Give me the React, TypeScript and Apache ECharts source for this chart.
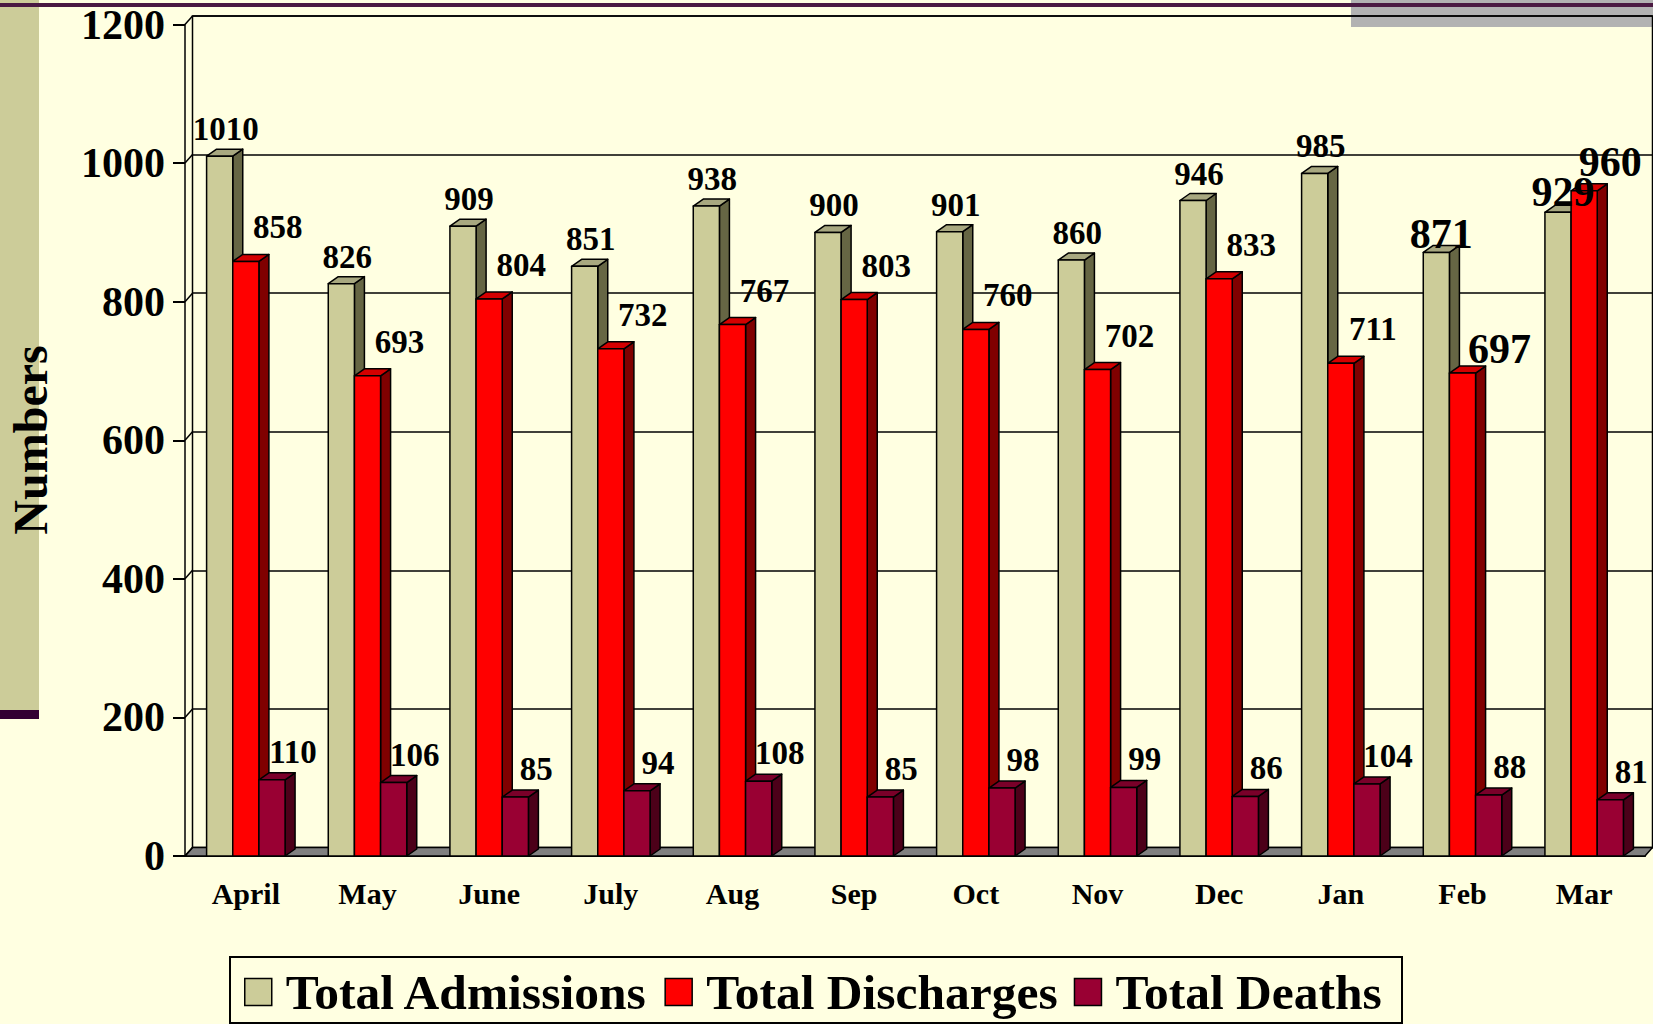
import React, { useEffect, useRef } from 'react';
import * as echarts from 'echarts';

const categories = ['April', 'May', 'June', 'July', 'Aug', 'Sep', 'Oct', 'Nov', 'Dec', 'Jan', 'Feb', 'Mar'];
const admissions = [1010, 826, 909, 851, 938, 900, 901, 860, 946, 985, 871, 929];
const discharges = [858, 693, 804, 732, 767, 803, 760, 702, 833, 711, 697, 960];
const deaths = [110, 106, 85, 94, 108, 85, 98, 99, 86, 104, 88, 81];
const yTicks = [0, 200, 400, 600, 800, 1000, 1200];
const seriesNames = ['Total Admissions', 'Total Discharges', 'Total Deaths'];

const FONT = "'Liberation Serif', 'Times New Roman', serif";
const BG = '#FFFFE1';
const faceColors = [
  { front: '#CCCC99', top: '#A8A880', side: '#666644' },
  { front: '#FF0000', top: '#D40000', side: '#800000' },
  { front: '#990033', top: '#7A0029', side: '#4C0019' },
];
const WALL_DX = 7.5;
const WALL_DY = 8.5;
const BAR_DX = 10;
const BAR_DY = 7;
const BAR_FRAC = 0.215;
const labelOffsets: [number, number][] = [[6, -27], [32, -34], [21, -28]];
const bigLabels: Record<string, [number, number]> = {
  '0-10': [5, -18],
  '1-10': [37, -24],
  '0-11': [5, -20],
  '1-11': [26, -29],
};

function barGeom(api: any, k: number) {
  const i = api.value(0);
  const v = api.value(1);
  const base = api.coord([i, 0]);
  const top = api.coord([i, v]);
  const band = api.size([1, 0])[0];
  const w = band * BAR_FRAC;
  const x0 = base[0] - 1.5 * w + k * w;
  return { i, v, x0, x1: x0 + w, w, yt: top[1], yb: base[1] };
}

const makeBarRender = (k: number) => (_params: any, api: any) => {
  const g = barGeom(api, k);
  const c = faceColors[k];
  const st = { stroke: '#000', lineWidth: 1.5, lineJoin: 'round' };
  return {
    type: 'group',
    children: [
      {
        type: 'polygon',
        shape: { points: [[g.x1, g.yt], [g.x1 + BAR_DX, g.yt - BAR_DY], [g.x1 + BAR_DX, g.yb - BAR_DY], [g.x1, g.yb]] },
        style: { fill: c.side, ...st },
      },
      {
        type: 'polygon',
        shape: { points: [[g.x0, g.yt], [g.x0 + BAR_DX, g.yt - BAR_DY], [g.x1 + BAR_DX, g.yt - BAR_DY], [g.x1, g.yt]] },
        style: { fill: c.top, ...st },
      },
      {
        type: 'rect',
        shape: { x: g.x0, y: g.yt, width: g.w, height: g.yb - g.yt },
        style: { fill: c.front, ...st },
      },
    ],
  };
};

const makeLabelRender = (k: number) => (_params: any, api: any) => {
  const g = barGeom(api, k);
  const key = `${k}-${g.i}`;
  const big = bigLabels[key];
  const off = big || labelOffsets[k];
  return {
    type: 'text',
    x: g.x0 + g.w / 2 + off[0],
    y: g.yt + off[1],
    style: {
      text: String(g.v),
      fill: '#000',
      fontFamily: FONT,
      fontSize: big ? 42 : 33,
      fontWeight: big ? 'bold' : 600,
      align: 'center',
      verticalAlign: 'middle',
    },
  };
};

const frameRender = (_params: any, api: any) => {
  const band = api.size([1, 0])[0];
  const left = api.coord([0, 0])[0] - band / 2;
  const right = api.coord([categories.length - 1, 0])[0] + band / 2;
  const y0 = api.coord([0, 0])[1];
  const children: any[] = [
    {
      type: 'polygon',
      shape: { points: [[left, y0], [left + WALL_DX, y0 - WALL_DY], [right + WALL_DX, y0 - WALL_DY], [right, y0]] },
      style: { fill: '#808080', stroke: '#000', lineWidth: 1.5 },
    },
  ];
  yTicks.forEach((t) => {
    const y = api.coord([0, t])[1];
    children.push({
      type: 'line',
      shape: { x1: left, y1: y, x2: left + WALL_DX, y2: y - WALL_DY },
      style: { stroke: '#000', lineWidth: 1.5 },
    });
  });
  return { type: 'group', children };
};

export default function App() {
  const ref = useRef<HTMLDivElement>(null);
  useEffect(() => {
    if (!ref.current) return;
    const chart = echarts.init(ref.current, undefined, { renderer: 'svg' });
    const valueSets = [admissions, discharges, deaths];
    const option: any = {
      animation: false,
      backgroundColor: BG,
      legend: {
        data: seriesNames,
        left: 244,
        top: 967,
        padding: 0,
        itemWidth: 27,
        itemHeight: 27,
        itemGap: 16,
        icon: 'rect',
        selectedMode: false,
        itemStyle: { borderColor: '#000', borderWidth: 1.5 },
        textStyle: {
          fontFamily: FONT,
          fontWeight: 'bold',
          fontSize: 49.5,
          lineHeight: 48,
          color: '#000',
          padding: [0, 0, 0, 9],
        },
      },
      grid: [
        { left: 185, top: 24.5, width: 1460, height: 831.5, show: false },
        {
          left: 185 + WALL_DX,
          top: 24.5 - WALL_DY,
          width: 1460,
          height: 831.5,
          show: true,
          borderColor: '#000',
          borderWidth: 1.5,
          backgroundColor: 'transparent',
        },
      ],
      xAxis: [
        {
          gridIndex: 0,
          type: 'category',
          data: categories,
          axisLine: { lineStyle: { color: '#000', width: 2 } },
          axisTick: { length: 12, lineStyle: { color: '#000', width: 2 } },
          axisLabel: {
            interval: 0,
            margin: 22,
            color: '#000',
            fontFamily: FONT,
            fontWeight: 'bold',
            fontSize: 30,
          },
        },
        { gridIndex: 1, type: 'category', data: categories, show: false },
      ],
      yAxis: [
        {
          gridIndex: 0,
          type: 'value',
          min: 0,
          max: 1200,
          interval: 200,
          axisLine: { show: true, lineStyle: { color: '#000', width: 1.5 } },
          axisTick: { show: true, length: 12, lineStyle: { color: '#000', width: 2 } },
          axisLabel: {
            margin: 20,
            color: '#000',
            fontFamily: FONT,
            fontWeight: 'bold',
            fontSize: 42,
            formatter: (v: number) => String(v),
          },
          splitLine: { show: false },
        },
        {
          gridIndex: 1,
          type: 'value',
          min: 0,
          max: 1200,
          interval: 200,
          axisLine: { show: false },
          axisTick: { show: false },
          axisLabel: { show: false },
          splitLine: { show: true, lineStyle: { color: '#000', width: 1.5 } },
        },
      ],
      graphic: [
        { type: 'rect', z: -10, silent: true, shape: { x: 0, y: 0, width: 39, height: 710 }, style: { fill: '#CCCC99' } },
        { type: 'rect', z: -10, silent: true, shape: { x: 0, y: 710, width: 39, height: 9 }, style: { fill: '#330033' } },
        { type: 'rect', z: -10, silent: true, shape: { x: 1351, y: 0, width: 302, height: 27 }, style: { fill: '#B2B2B2' } },
        { type: 'rect', z: -9, silent: true, shape: { x: 0, y: 3, width: 1653, height: 4 }, style: { fill: '#4A1942' } },
        {
          type: 'rect',
          z: -9,
          silent: true,
          shape: { x: 230, y: 957, width: 1172, height: 66 },
          style: { fill: BG, stroke: '#000', lineWidth: 2 },
        },
        {
          type: 'text',
          z: 10,
          x: 30,
          y: 440,
          rotation: Math.PI / 2,
          style: {
            text: 'Numbers',
            fill: '#000',
            fontFamily: FONT,
            fontWeight: 'bold',
            fontSize: 48,
            textAlign: 'center',
            textVerticalAlign: 'middle',
            align: 'center',
            verticalAlign: 'middle',
          },
        },
      ],
      series: [
        {
          type: 'custom',
          name: 'frame',
          xAxisIndex: 0,
          yAxisIndex: 0,
          silent: true,
          z: 1,
          data: [[0, 0]],
          encode: { x: 0, y: 1 },
          renderItem: frameRender,
        },
        ...valueSets.map((vals, k) => ({
          type: 'custom',
          name: seriesNames[k],
          xAxisIndex: 0,
          yAxisIndex: 0,
          z: 2,
          data: vals.map((v, i) => [i, v]),
          encode: { x: 0, y: 1 },
          itemStyle: { color: faceColors[k].front },
          renderItem: makeBarRender(k),
        })),
        ...valueSets.map((vals, k) => ({
          type: 'custom',
          name: 'label-' + k,
          xAxisIndex: 0,
          yAxisIndex: 0,
          z: 5,
          silent: true,
          data: vals.map((v, i) => [i, v]),
          encode: { x: 0, y: 1 },
          renderItem: makeLabelRender(k),
        })),
      ],
    };
    chart.setOption(option);
    return () => chart.dispose();
  }, []);
  return (
    <div
      ref={ref}
      style={{ position: 'fixed', left: 0, top: 0, width: 1653, height: 1024 }}
    />
  );
}
